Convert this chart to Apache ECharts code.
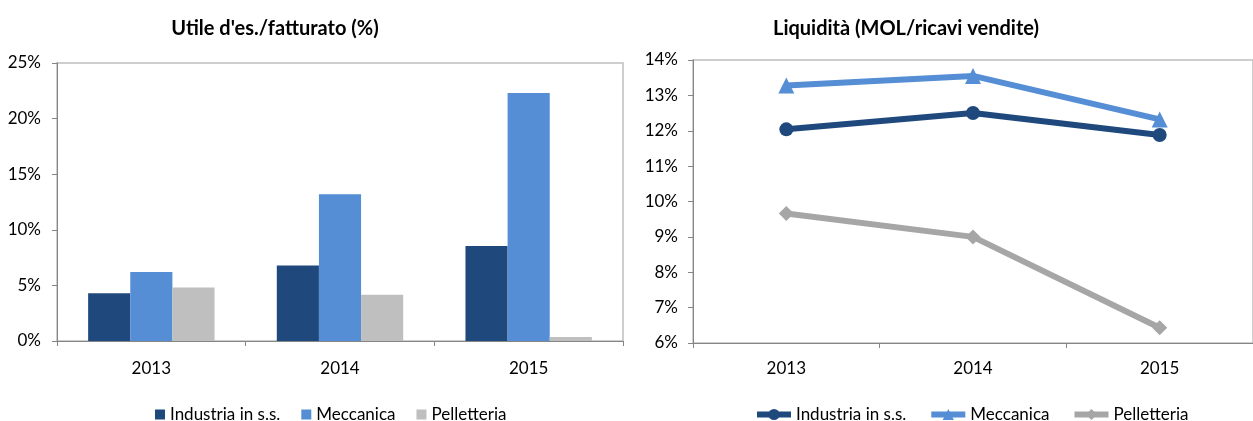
<!DOCTYPE html>
<html>
<head>
<meta charset="utf-8">
<script src="https://cdn.jsdelivr.net/npm/echarts@6/dist/echarts.min.js"></script>
<style>
html,body{margin:0;padding:0;background:#fff;}
#c{width:1253px;height:421px;}
</style>
</head>
<body>
<div id="c"></div>
<script>
const years = ['2013', '2014', '2015'];
const seriesNames = ['Industria in s.s.', 'Meccanica', 'Pelletteria'];
// Utile d'es./fatturato (%)
const utileIndustria = [4.3, 6.8, 8.55];
const utileMeccanica = [6.2, 13.2, 22.3];
const utilePelletteria = [4.8, 4.15, 0.35];
// Liquidità (MOL/ricavi vendite) (%)
const liqIndustria = [12.04, 12.5, 11.88];
const liqMeccanica = [13.28, 13.55, 12.32];
const liqPelletteria = [9.66, 9.0, 6.43];

const colors = ['#1F497D', '#558ED5', '#BFBFBF'];
const lineColors = ['#1F497D', '#558ED5', '#A6A6A6'];
const FONT = 'Lato, "Liberation Sans", sans-serif';

const chart = echarts.init(document.getElementById('c'), null, {renderer: 'canvas'});

const axisLineStyle = {color: '#868686', width: 1};
const labelStyle = {fontFamily: FONT, fontSize: 17, color: '#000'};

const option = {
  animation: false,
  backgroundColor: '#fff',
  title: [
    {text: "Utile d'es./fatturato (%)", left: 270, top: 14, textAlign: 'center',
     textStyle: {fontFamily: FONT, fontSize: 20, fontWeight: 'bold', color: '#000'}},
    {text: 'Liquidità (MOL/ricavi vendite)', left: 901, top: 14, textAlign: 'center',
     textStyle: {fontFamily: FONT, fontSize: 20, fontWeight: 'bold', color: '#000'}}
  ],
  legend: [
    {data: seriesNames.map(n => ({name: n, icon: 'rect'})), left: 150, top: 401, itemWidth: 10, itemHeight: 10, itemGap: 21,
     selectedMode: false,
     textStyle: {fontFamily: FONT, fontSize: 17, color: '#000'}}
  ],
  grid: [
    {left: 57, top: 63, width: 566, height: 278, show: true, borderColor: '#BFBFBF', borderWidth: 1.5},
    {left: 693, top: 60, width: 571, height: 283, show: true, borderColor: '#BFBFBF', borderWidth: 1.5}
  ],
  xAxis: [
    {type: 'category', gridIndex: 0, data: years,
     axisLine: {lineStyle: axisLineStyle}, axisTick: {show: true, length: 5, lineStyle: axisLineStyle},
     axisLabel: Object.assign({margin: 19}, labelStyle)},
    {type: 'category', gridIndex: 1, data: years,
     axisLine: {lineStyle: axisLineStyle}, axisTick: {show: true, length: 5, lineStyle: axisLineStyle},
     axisLabel: Object.assign({margin: 17}, labelStyle)}
  ],
  yAxis: [
    {type: 'value', gridIndex: 0, min: 0, max: 25, interval: 5,
     axisLine: {show: true, lineStyle: axisLineStyle}, axisTick: {show: true, length: 5, lineStyle: axisLineStyle},
     splitLine: {show: false},
     axisLabel: Object.assign({margin: 16, formatter: '{value}%'}, labelStyle)},
    {type: 'value', gridIndex: 1, min: 6, max: 14, interval: 1,
     axisLine: {show: true, lineStyle: axisLineStyle}, axisTick: {show: true, length: 5, lineStyle: axisLineStyle},
     splitLine: {show: false},
     axisLabel: Object.assign({margin: 15, formatter: '{value}%'}, labelStyle)}
  ],
  series: [
    {name: seriesNames[0], type: 'bar', xAxisIndex: 0, yAxisIndex: 0, data: utileIndustria,
     itemStyle: {color: colors[0]}, barGap: '0%', barCategoryGap: '33%'},
    {name: seriesNames[1], type: 'bar', xAxisIndex: 0, yAxisIndex: 0, data: utileMeccanica,
     itemStyle: {color: colors[1]}, barGap: '0%', barCategoryGap: '33%'},
    {name: seriesNames[2], type: 'bar', xAxisIndex: 0, yAxisIndex: 0, data: utilePelletteria,
     itemStyle: {color: colors[2]}, barGap: '0%', barCategoryGap: '33%'},
    {name: 'L ' + seriesNames[0], type: 'line', xAxisIndex: 1, yAxisIndex: 1, data: liqIndustria,
     symbol: 'circle', symbolSize: 14, lineStyle: {color: lineColors[0], width: 6}, itemStyle: {color: lineColors[0]}},
    {name: 'L ' + seriesNames[1], type: 'line', xAxisIndex: 1, yAxisIndex: 1, data: liqMeccanica,
     symbol: 'triangle', symbolSize: 16, lineStyle: {color: lineColors[1], width: 6}, itemStyle: {color: lineColors[1]}},
    {name: 'L ' + seriesNames[2], type: 'line', xAxisIndex: 1, yAxisIndex: 1, data: liqPelletteria,
     symbol: 'diamond', symbolSize: 15, lineStyle: {color: lineColors[2], width: 6}, itemStyle: {color: lineColors[2]}}
  ]
};

option.legend.push({
  data: seriesNames.map(n => 'L ' + n), left: 749, top: 401, itemWidth: 34, itemHeight: 14, itemGap: 22,
  selectedMode: false,
  lineStyle: {width: 6},
  formatter: n => n.slice(2),
  textStyle: {fontFamily: FONT, fontSize: 17, color: '#000'}
});

chart.setOption(option);
</script>
</body>
</html>
